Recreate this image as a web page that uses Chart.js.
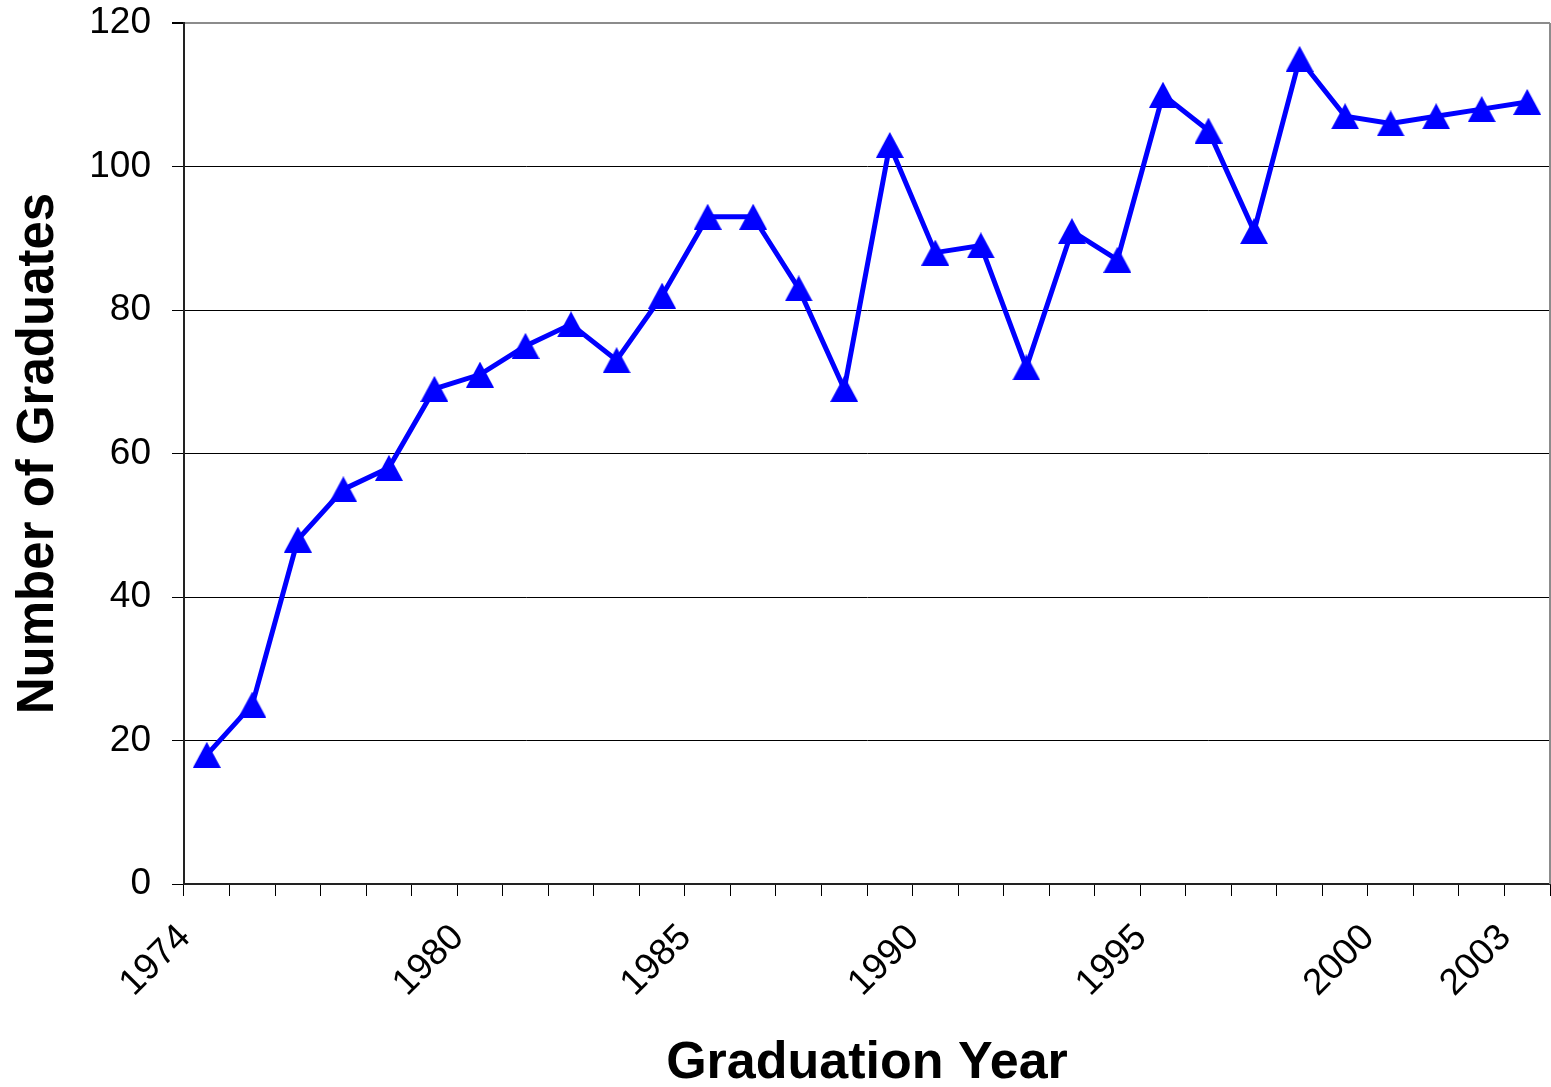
<!DOCTYPE html>
<html>
<head>
<meta charset="utf-8">
<title>Number of Graduates</title>
<script src="https://cdn.jsdelivr.net/npm/chart.js@4.4.1/dist/chart.umd.min.js"></script>
<style>
  html, body { margin: 0; padding: 0; background: #fff; }
  #wrap { width: 1551px; height: 1087px; position: relative; }
</style>
</head>
<body>
<div id="wrap"><canvas id="chart"></canvas></div>
<script>
"use strict";

// Data
const years = ['1974', '1975', '1976', '1977', '1978', '1979', '1980', '1981', '1982', '1983',
    '1984', '1985', '1986', '1987', '1988', '1989', '1990', '1991', '1992', '1993',
    '1994', '1995', '1996', '1997', '1998', '1999', '2000', '2001', '2002', '2003'];
const graduates = [18, 25, 48, 55, 58, 69, 71, 75, 78, 73,
    82, 93, 93, 83, 69, 103, 88, 89, 72, 91,
    87, 110, 105, 91, 115, 107, 106, 107, 108, 109];
const labelledYears = ['1974', '1980', '1985', '1990', '1995', '2000', '2003'];
const yMin = 0;
const yMax = 120;
const yStep = 20;

const FONT = "'Liberation Sans', Arial, sans-serif";
const BLUE = '#0000ff';

window.onload = init;

function init() {
    createChart();
}

// triangle marker centred on its box (like the original)
function makeTriangle(w, h, color) {
    const c = document.createElement('canvas');
    c.width = w;
    c.height = h;
    const g = c.getContext('2d');
    g.fillStyle = color;
    g.beginPath();
    g.moveTo(w / 2, 0);
    g.lineTo(w, h);
    g.lineTo(0, h);
    g.closePath();
    g.fill();
    return c;
}

// grey frame line on the right side of the plot
const framePlugin = {
    id: 'frame',
    beforeDatasetsDraw(chart) {
        const { ctx, chartArea: a } = chart;
        ctx.save();
        ctx.strokeStyle = '#8c8c8c';
        ctx.lineWidth = 2;
        ctx.beginPath();
        ctx.moveTo(a.right, a.top);
        ctx.lineTo(a.right, a.bottom);
        ctx.stroke();
        ctx.restore();
    }
};

function createChart() {
    const ctx = document.getElementById('chart').getContext('2d');
    const marker = makeTriangle(28, 26, BLUE);

    new Chart(ctx, {
        type: 'line',
        data: {
            labels: years,
            datasets: [{
                label: 'Graduates',
                data: graduates,
                borderColor: BLUE,
                backgroundColor: BLUE,
                borderWidth: 5,
                tension: 0,
                clip: false,
                pointStyle: marker,
                pointRadius: 14,
                pointHoverRadius: 14
            }]
        },
        plugins: [framePlugin],
        options: {
            responsive: true,
            maintainAspectRatio: false,
            animation: false,
            layout: { autoPadding: false, padding: { top: 23, right: 1, left: 0, bottom: 0 } },
            plugins: {
                legend: { display: false },
                tooltip: { enabled: false }
            },
            scales: {
                x: {
                    offset: true,
                    afterFit: (scale) => {
                        scale.height = 203;
                        scale.paddingLeft = 0;
                        scale.paddingRight = 0;
                    },
                    grid: {
                        offset: true,
                        drawOnChartArea: false,
                        drawTicks: true,
                        tickLength: 12,
                        tickColor: '#000',
                        color: '#000',
                        lineWidth: 1
                    },
                    border: { display: true, color: '#222', width: 2 },
                    ticks: {
                        autoSkip: false,
                        maxRotation: 45,
                        minRotation: 45,
                        labelOffset: -22,
                        padding: 20,
                        color: '#000',
                        font: { family: FONT, size: 37 },
                        callback: function (value) {
                            const y = this.getLabelForValue(value);
                            return labelledYears.includes(y) ? y : '';
                        }
                    },
                    title: {
                        display: true,
                        text: 'Graduation Year',
                        color: '#000',
                        font: { family: FONT, size: 52, weight: 'bold', lineHeight: 0.9 },
                        padding: { top: 0, bottom: 0 }
                    }
                },
                y: {
                    min: yMin,
                    max: yMax,
                    afterFit: (scale) => {
                        scale.width = 184;
                        scale.paddingTop = 0;
                        scale.paddingBottom = 0;
                    },
                    grid: {
                        drawTicks: true,
                        tickLength: 12,
                        tickColor: '#000',
                        color: (c) => (c.tick && c.tick.value === yMax ? '#8c8c8c' : '#000'),
                        lineWidth: (c) => (c.tick && c.tick.value === yMax ? 2 : 1)
                    },
                    border: { display: true, color: '#222', width: 2 },
                    ticks: {
                        stepSize: yStep,
                        padding: 21,
                        color: '#000',
                        font: { family: FONT, size: 37 }
                    },
                    title: {
                        display: true,
                        text: 'Number of Graduates',
                        color: '#000',
                        font: { family: FONT, size: 51, weight: 'bold', lineHeight: 1 },
                        padding: { top: 13, bottom: 0 }
                    }
                }
            }
        }
    });
}
</script>
</body>
</html>
